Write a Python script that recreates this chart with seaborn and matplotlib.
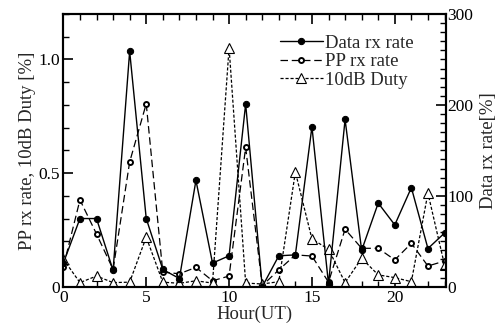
import matplotlib
matplotlib.use("Agg")
import matplotlib.pyplot as plt
from matplotlib.ticker import MultipleLocator
import seaborn as sns
import numpy as np

hours = list(range(24))
data_rx = [26, 75, 75, 18, 259, 75, 19, 9, 117, 26, 34, 201, 0, 34,
           35, 176, 3, 184, 40, 92, 68, 109, 42, 59]
pp_rx = [0.088, 0.382, 0.232, 0.076, 0.549, 0.805, 0.064, 0.057, 0.085, 0.026,
         0.047, 0.613, 0.005, 0.074, 0.14, 0.135, 0.02, 0.253, 0.169, 0.169,
         0.118, 0.191, 0.091, 0.113]
duty = [0.121, 0.018, 0.047, 0.018, 0.02, 0.218, 0.02, 0.015, 0.026, 0.016,
        1.052, 0.016, 0.012, 0.022, 0.505, 0.21, 0.165, 0.018, 0.125, 0.052,
        0.04, 0.022, 0.412, 0.096]

sns.set_style("ticks")
plt.rcParams['font.family'] = ['Liberation Serif', 'DejaVu Serif']
plt.rcParams['mathtext.fontset'] = 'stix'

TICK_FS = 12.5
LABEL_FS = 13.5

fig = plt.figure(figsize=(5.03, 3.34), dpi=100)
ax = fig.add_axes([0.126, 0.1416, 0.761, 0.8164])
ax2 = ax.twinx()

sns.lineplot(x=hours, y=pp_rx, ax=ax, color='black', linestyle=(0, (6, 3)),
             linewidth=0.9, marker='o', markersize=3.6, markerfacecolor='white',
             markeredgecolor='black', markeredgewidth=1.4, label='PP rx rate',
             legend=False)
sns.lineplot(x=hours, y=duty, ax=ax, color='black', linestyle=(0, (2.5, 1.5)),
             linewidth=0.9, marker='^', markersize=7.5, markerfacecolor='white',
             markeredgecolor='black', markeredgewidth=0.8, label='10dB Duty',
             legend=False)
sns.lineplot(x=hours, y=data_rx, ax=ax2, color='black', linestyle='-',
             linewidth=1.0, marker='o', markersize=4.5, markerfacecolor='black',
             markeredgecolor='black', label='Data rx rate', legend=False)

ax.set_xlim(0, 23.1)
ax.set_ylim(0, 1.2)
ax2.set_ylim(0, 300)

ax.xaxis.set_major_locator(MultipleLocator(5))
ax.xaxis.set_minor_locator(MultipleLocator(1))
ax.yaxis.set_major_locator(MultipleLocator(0.5))
ax.yaxis.set_minor_locator(MultipleLocator(0.1))
ax2.yaxis.set_major_locator(MultipleLocator(100))
ax2.yaxis.set_minor_locator(MultipleLocator(10))

ax.set_yticks([0, 0.5, 1.0])
ax.set_yticklabels(['0', '0.5', '1.0'])

for a in (ax, ax2):
    for s in a.spines.values():
        s.set_linewidth(1.5)
        s.set_color('black')
ax.tick_params(axis='x', which='both', direction='in', top=True, bottom=True,
               labelsize=TICK_FS, pad=2.5, colors='black')
ax.tick_params(axis='x', which='major', length=7, width=1.2)
ax.tick_params(axis='x', which='minor', length=4, width=1.0)
ax.tick_params(axis='y', which='both', direction='in', left=True, right=False,
               labelsize=TICK_FS, pad=2.5, colors='black')
ax.tick_params(axis='y', which='major', length=7, width=1.2)
ax.tick_params(axis='y', which='minor', length=4, width=1.0)
ax2.tick_params(axis='y', which='both', direction='in', right=True, left=False,
                labelsize=TICK_FS, pad=1, colors='black')
ax2.tick_params(axis='y', which='major', length=7, width=1.2)
ax2.tick_params(axis='y', which='minor', length=4, width=1.0)

ax.set_xlabel('Hour(UT)', fontsize=LABEL_FS, labelpad=0)
ax.set_ylabel('PP rx rate, 10dB Duty [%]', fontsize=LABEL_FS, labelpad=2)
ax2.set_ylabel('Data rx rate[%]', fontsize=LABEL_FS, labelpad=5)

h1, l1 = ax.get_legend_handles_labels()
h2, l2 = ax2.get_legend_handles_labels()
ax2.legend(h2 + h1, l2 + l1, loc='upper left', bbox_to_anchor=(0.55, 0.945),
           frameon=False, fontsize=LABEL_FS, handlelength=2.3, handletextpad=0.1,
           labelspacing=0.08, borderaxespad=0.0, borderpad=0.3)

fig.savefig('out.png', dpi=100)
